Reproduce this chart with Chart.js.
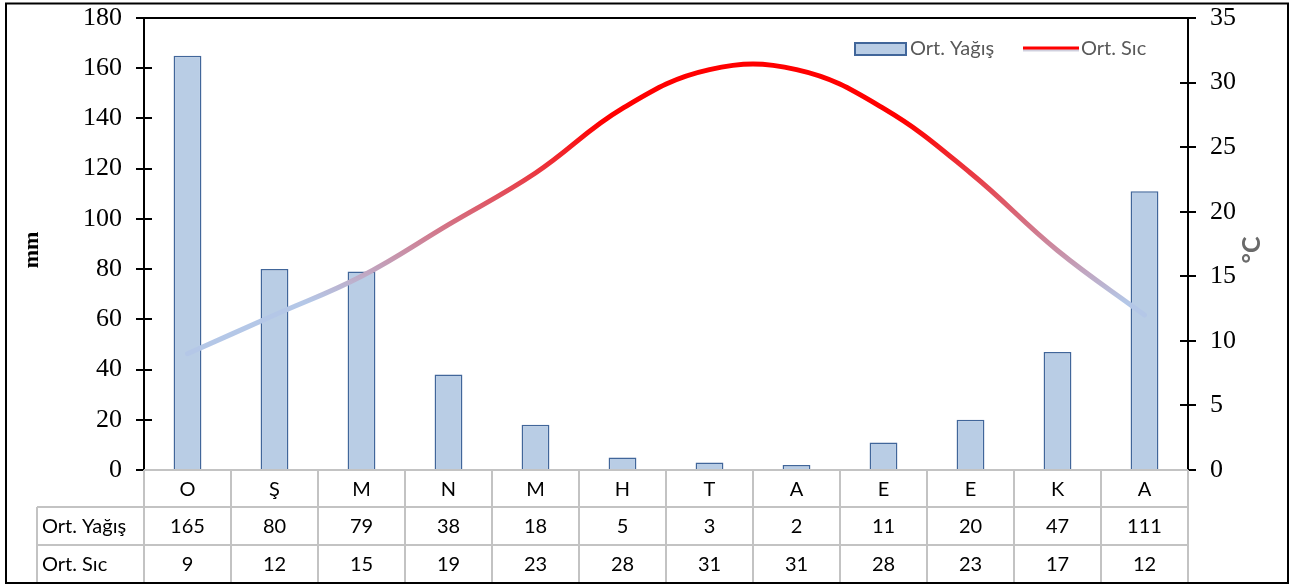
<!DOCTYPE html>
<html>
<head>
<meta charset="utf-8">
<script src="https://cdn.jsdelivr.net/npm/chart.js@4/dist/chart.umd.min.js"></script>
<style>
  html, body { margin: 0; padding: 0; background: #fff; }
  #wrap { width: 1292px; height: 584px; position: relative; }
</style>
</head>
<body>
<div id="wrap"><canvas id="climate"></canvas></div>
<script>
// Monthly climate data
const months = ['O', 'Ş', 'M', 'N', 'M', 'H', 'T', 'A', 'E', 'E', 'K', 'A'];
const rainfall = [165, 80, 79, 38, 18, 5, 3, 2, 11, 20, 47, 111];
const temperature = [9, 12, 15, 19, 23, 28, 31, 31, 28, 23, 17, 12];
const rainTicks = [0, 20, 40, 60, 80, 100, 120, 140, 160, 180];
const tempTicks = [0, 5, 10, 15, 20, 25, 30, 35];
const rainName = 'Ort. Yağış';
const tempName = 'Ort. Sıc';

const BAR_FILL = '#b9cde5';
const BAR_EDGE = '#41669a';
const COOL = '#b4c7e7';
const WARM = '#ff0000';
const TABLE_LINE = '#c3c3c3';
const SANS = 'Lato, "Open Sans", sans-serif';
const SERIF = '"Liberation Serif", "Times New Roman", serif';

const PLOT_TOP = 18, PLOT_BOTTOM = 470, LEFT_W = 144, RIGHT_W = 104;
const ROW_Y = [470, 507, 545, 583];
const LABEL_COL_X = 37;

function tempGradient(ctx) {
  const chart = ctx.chart;
  const area = chart.chartArea;
  const s = chart.scales.y1;
  if (!area || !s) return WARM;
  const g = chart.ctx.createLinearGradient(0, s.getPixelForValue(13), 0, s.getPixelForValue(27));
  g.addColorStop(0, COOL);
  g.addColorStop(1, WARM);
  return g;
}

// fixed axis width, no extra room reserved above the top tick label
function fitAxis(width) {
  return s => {
    s.width = width;
    s.paddingTop = 0;
    s.paddingBottom = 0;
  };
}

// Axis frame, inner tick halves, data table, legend and axis titles
const decorations = {
  id: 'decorations',
  afterDraw(chart) {
    const { ctx, chartArea: a, scales } = chart;
    ctx.save();

    // top frame line of the plot
    ctx.strokeStyle = '#000';
    ctx.lineWidth = 2;
    ctx.beginPath();
    ctx.moveTo(a.left - 1, a.top);
    ctx.lineTo(a.right + 1, a.top);
    ctx.stroke();

    // tick halves pointing into the plot
    ctx.beginPath();
    rainTicks.forEach(v => {
      if (v === 0) return;
      const y = Math.round(scales.y.getPixelForValue(v));
      ctx.moveTo(a.left, y); ctx.lineTo(a.left + 8, y);
    });
    tempTicks.forEach(v => {
      if (v === 0) return;
      const y = Math.round(scales.y1.getPixelForValue(v));
      ctx.moveTo(a.right, y); ctx.lineTo(a.right - 8, y);
    });
    ctx.stroke();

    // data table below the plot
    const n = months.length;
    const colW = (a.right - a.left) / n;
    ctx.strokeStyle = TABLE_LINE;
    ctx.lineWidth = 2;
    ctx.beginPath();
    ctx.moveTo(a.left, ROW_Y[0]); ctx.lineTo(a.right, ROW_Y[0]);
    for (let r = 1; r < ROW_Y.length; r++) {
      ctx.moveTo(LABEL_COL_X, ROW_Y[r]); ctx.lineTo(a.right, ROW_Y[r]);
    }
    for (let i = 0; i <= n; i++) {
      const x = a.left + i * colW;
      ctx.moveTo(x, ROW_Y[0]); ctx.lineTo(x, ROW_Y[3]);
    }
    ctx.moveTo(LABEL_COL_X, ROW_Y[1]); ctx.lineTo(LABEL_COL_X, ROW_Y[3]);
    ctx.stroke();

    ctx.fillStyle = '#000';
    ctx.font = '20px ' + SANS;
    ctx.textBaseline = 'middle';
    ctx.textAlign = 'center';
    const rowMid = r => (ROW_Y[r] + ROW_Y[r + 1]) / 2 + 1;
    months.forEach((m, i) => {
      const x = scales.x.getPixelForValue(i);
      ctx.fillText(m, x, rowMid(0));
      ctx.fillText(String(rainfall[i]), x, rowMid(1));
      ctx.fillText(String(temperature[i]), x, rowMid(2));
    });
    ctx.textAlign = 'left';
    ctx.fillText(rainName, 42, rowMid(1));
    ctx.fillText(tempName, 42, rowMid(2));

    // legend
    ctx.fillStyle = BAR_FILL;
    ctx.fillRect(855, 43, 51, 12);
    ctx.strokeStyle = BAR_EDGE;
    ctx.lineWidth = 2;
    ctx.strokeRect(855, 43, 51, 12);
    ctx.fillStyle = '#595959';
    ctx.font = '20px ' + SANS;
    ctx.fillText(rainName, 910, 49);
    ctx.strokeStyle = 'rgba(120,120,160,0.35)';
    ctx.lineWidth = 3;
    ctx.beginPath(); ctx.moveTo(1023, 50); ctx.lineTo(1079, 50); ctx.stroke();
    ctx.strokeStyle = WARM;
    ctx.beginPath(); ctx.moveTo(1023, 48); ctx.lineTo(1079, 48); ctx.stroke();
    ctx.fillText(tempName, 1081, 49);

    // axis titles
    ctx.save();
    ctx.translate(32, 250);
    ctx.rotate(-Math.PI / 2);
    ctx.textAlign = 'center';
    ctx.fillStyle = '#000';
    ctx.font = 'bold 22px ' + SERIF;
    ctx.fillText('mm', 0, 0);
    ctx.restore();

    ctx.save();
    ctx.translate(1252, 250);
    ctx.rotate(-Math.PI / 2);
    ctx.textAlign = 'center';
    ctx.fillStyle = '#6a6a6a';
    ctx.font = 'bold 25px ' + SANS;
    ctx.fillText('°C', 0, 0);
    ctx.restore();

    // outer border
    ctx.strokeStyle = '#000';
    ctx.lineWidth = 2;
    ctx.strokeRect(6, 3.5, 1282, 579.5);

    ctx.restore();
  }
};

new Chart(document.getElementById('climate'), {
  type: 'bar',
  data: {
    labels: months,
    datasets: [
      {
        type: 'line',
        label: tempName,
        data: temperature,
        yAxisID: 'y1',
        order: 0,
        borderColor: tempGradient,
        borderWidth: 5,
        borderCapStyle: 'round',
        tension: 0.4,
        pointRadius: 0,
        fill: false
      },
      {
        type: 'bar',
        label: rainName,
        data: rainfall,
        yAxisID: 'y',
        order: 1,
        backgroundColor: BAR_FILL,
        borderColor: BAR_EDGE,
        borderWidth: 1.5,
        barPercentage: 0.32,
        categoryPercentage: 1.0
      }
    ]
  },
  options: {
    responsive: true,
    maintainAspectRatio: false,
    animation: false,
    layout: { padding: { top: PLOT_TOP, bottom: 584 - PLOT_BOTTOM, left: 0, right: 0 } },
    plugins: { legend: { display: false }, tooltip: { enabled: false } },
    scales: {
      x: { display: false },
      y: {
        position: 'left',
        min: 0, max: 180,
        afterBuildTicks: s => { s.ticks = rainTicks.map(v => ({ value: v })); },
        afterFit: fitAxis(LEFT_W),
        grid: { drawOnChartArea: false, drawTicks: true, tickLength: 8, color: '#000', lineWidth: 2 },
        border: { display: true, color: '#000', width: 2 },
        ticks: { color: '#000', padding: 14, font: { family: SERIF, size: 26 } }
      },
      y1: {
        position: 'right',
        min: 0, max: 35,
        afterBuildTicks: s => { s.ticks = tempTicks.map(v => ({ value: v })); },
        afterFit: fitAxis(RIGHT_W),
        grid: { drawOnChartArea: false, drawTicks: true, tickLength: 8, color: '#000', lineWidth: 2 },
        border: { display: true, color: '#000', width: 2 },
        ticks: { color: '#000', padding: 14, font: { family: SERIF, size: 26 } }
      }
    }
  },
  plugins: [decorations]
});
</script>
</body>
</html>
